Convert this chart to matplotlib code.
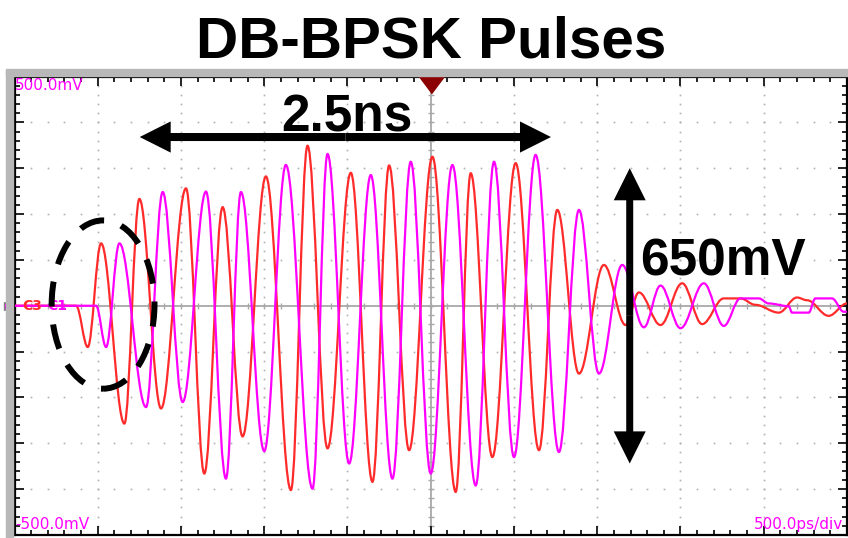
import numpy as np
import matplotlib.pyplot as plt
from matplotlib.path import Path
from matplotlib.patches import PathPatch, Ellipse, Rectangle, FancyArrow

plt.rcParams['font.family'] = ['Liberation Sans', 'DejaVu Sans']

# --------------------------------------------------
# Data (turning points)
# time in ns (500 ps/div), voltage in mV (100 mV/div)
# --------------------------------------------------

red_t = [-2.50, -2.13, -2.06, -1.98, -1.84, -1.75, -1.62, -1.47, -1.36, -1.25,
         -1.13, -0.99, -0.84, -0.74, -0.62, -0.48, -0.35, -0.25, -0.13, 0.01,
         0.15, 0.24, 0.37, 0.51, 0.65, 0.76, 0.89, 1.04, 1.17, 1.25,
         1.38, 1.51, 1.63, 1.76, 1.86, 1.95, 2.09, 2.20, 2.26, 2.39, 2.50]
red_mv = [0, 0, -90, 136, -257, 233, -224, 256, -366, 215,
          -285, 282, -402, 349, -311, 290, -384, 306, -315, 325,
          -406, 289, -330, 311, -315, 209, -148, 89, -42, 29,
          -42, 49, -40, 16, 16, 2, -15, 18, 12, -22, 5]

mag_t = [-2.50, -2.01, -1.95, -1.87, -1.71, -1.61, -1.49, -1.35, -1.23, -1.14,
         -1.00, -0.87, -0.71, -0.62, -0.49, -0.36, -0.23, -0.12, 0.00, 0.13,
         0.27, 0.38, 0.50, 0.63, 0.77, 0.89, 1.01, 1.15, 1.28, 1.38,
         1.50, 1.64, 1.76, 1.86, 1.97, 2.03, 2.15, 2.17, 2.27, 2.31,
         2.41, 2.48, 2.50]
mag_mv = [0, 0, -90, 136, -221, 248, -210, 249, -377, 248,
          -317, 307, -399, 331, -344, 285, -377, 314, -366, 307,
          -392, 314, -330, 329, -319, 209, -148, 89, -47, 44,
          -49, 49, -44, 16, 16, 5, -1, -15, -15, 16,
          16, -13, -13]

RED = "#ff2a2a"
MAGENTA = "#ff00ff"
GRID = "#b0b0b0"
SCOPE_FONT = ["DejaVu Sans"]


# smooth trace through the turning points (flat tangent at each point)
def trace_path(t, v, a=0.364):
    verts = [(t[0], v[0])]
    codes = [Path.MOVETO]
    for i in range(len(t) - 1):
        dx = t[i + 1] - t[i]
        verts += [(t[i] + a * dx, v[i]),
                  (t[i + 1] - a * dx, v[i + 1]),
                  (t[i + 1], v[i + 1])]
        codes += [Path.CURVE4] * 3
    return Path(verts, codes)


fig = plt.figure(figsize=(8.48, 5.38), dpi=100)

# grey scope frame
fig.patches.append(Rectangle((6 / 848, 0), 6.5 / 848, (538 - 69.5) / 538,
                             transform=fig.transFigure, color="#b8b8b8", zorder=0))
fig.patches.append(Rectangle((6 / 848, (538 - 75.5) / 538), 842 / 848, 6 / 538,
                             transform=fig.transFigure, color="#b8b8b8", zorder=0))

ax = fig.add_axes([14.5 / 848, 3 / 538, 832.5 / 848, 458.5 / 538])
ax.set_xlim(-2.5, 2.5)
ax.set_ylim(-500, 500)

# ticks on all four sides, pointing in
ax.set_xticks(np.arange(-2.5, 2.51, 0.5))
ax.set_xticks(np.arange(-2.5, 2.51, 0.1), minor=True)
ax.set_yticks(np.arange(-500, 501, 100))
ax.set_yticks(np.arange(-500, 501, 20), minor=True)
ax.tick_params(which="both", direction="in", top=True, right=True,
               labelbottom=False, labelleft=False, width=1.2, color="black")
ax.tick_params(which="major", length=6.5)
ax.tick_params(which="minor", length=3.5)
for s in ax.spines.values():
    s.set_linewidth(1.6)

# dotted graticule
major_x = np.arange(-2.0, 2.01, 0.5)
major_y = np.arange(-400, 401, 100)
minor_x = np.arange(-2.5, 2.51, 0.1)
minor_y = np.arange(-500, 501, 20)
for xm in major_x:
    if abs(xm) > 1e-9:
        ax.plot(np.full_like(minor_y, xm, dtype=float), minor_y, ls="none",
                marker="s", ms=1.2, mew=0, color=GRID, zorder=1)
for ym in major_y:
    if abs(ym) > 1e-9:
        ax.plot(minor_x, np.full_like(minor_x, ym), ls="none",
                marker="s", ms=1.2, mew=0, color=GRID, zorder=1)

# centre cross with small ticks
ax.axhline(0, color="#a8a8a8", lw=1.3, zorder=1)
ax.axvline(0, color="#a8a8a8", lw=1.3, zorder=1)
ax.plot(minor_x, np.zeros_like(minor_x), ls="none", marker="|", ms=4,
        color="#a8a8a8", zorder=1)
ax.plot(np.zeros_like(minor_y, dtype=float), minor_y, ls="none", marker="_",
        ms=5, color="#a8a8a8", zorder=1)

# traces
ax.add_patch(PathPatch(trace_path(red_t, red_mv), fill=False,
                       edgecolor=RED, lw=1.6, zorder=3))
ax.add_patch(PathPatch(trace_path(mag_t, mag_mv), fill=False,
                       edgecolor=MAGENTA, lw=1.6, zorder=4))

# scope labels
ax.text(0.001, 0.997, "500.0mV", transform=ax.transAxes, color=MAGENTA,
        fontsize=11, family=SCOPE_FONT, ha="left", va="top", zorder=5)
ax.text(0.001, 0.006, "-500.0mV", transform=ax.transAxes, color=MAGENTA,
        fontsize=11, family=SCOPE_FONT, ha="left", va="bottom", zorder=5)
ax.text(0.995, 0.006, "500.0ps/div", transform=ax.transAxes, color=MAGENTA,
        fontsize=11, family=SCOPE_FONT, ha="right", va="bottom", zorder=5)
ax.text(0.009, 0.5, "C3", transform=ax.transAxes, color=RED,
        fontsize=10, fontweight="bold", family=SCOPE_FONT,
        ha="left", va="center", zorder=6)
ax.text(0.039, 0.5, "C1", transform=ax.transAxes, color=MAGENTA,
        fontsize=10, fontweight="bold", family=SCOPE_FONT,
        ha="left", va="center", zorder=5)

# trigger and channel markers
ax.plot([0.5], [0.982], transform=ax.transAxes, clip_on=False, ls="none",
        marker=[(-1.5, 1), (1.5, 1), (0, -1)], ms=18, color="#8b0000", zorder=6)
ax.plot([-0.008], [0.5], transform=ax.transAxes, clip_on=False, ls="none",
        marker=">", ms=6, color=MAGENTA, mec="#808080", zorder=6)

# annotations
ax.add_patch(Ellipse((-1.968, 2.6), 0.6175, 367, fill=False, ec="black",
                     lw=4.3, ls=(0, (4.2, 3.0)), zorder=7))

arrow_kw = dict(length_includes_head=True, color="black", lw=0, zorder=7)
mid_t = (-1.748 + 0.722) / 2
for end in (-1.748, 0.722):
    ax.add_patch(FancyArrow(mid_t, 368, end - mid_t, 0, width=17.5,
                            head_width=68, head_length=0.186, **arrow_kw))
mid_v = (300 - 344) / 2
for end in (300, -344):
    ax.add_patch(FancyArrow(1.195, mid_v, 0, end - mid_v, width=0.042,
                            head_width=0.192, head_length=70, **arrow_kw))

ax.text(-0.501, 381, "2.5ns", fontsize=37, fontweight="bold",
        ha="center", va="baseline", zorder=8)
ax.text(1.753, 67, "650mV", fontsize=37, fontweight="bold",
        ha="center", va="baseline", zorder=8)

fig.text(0.508, 0.894, "DB-BPSK Pulses", fontsize=42, fontweight="bold",
         ha="center", va="baseline")

fig.savefig("out.png", dpi=100)
